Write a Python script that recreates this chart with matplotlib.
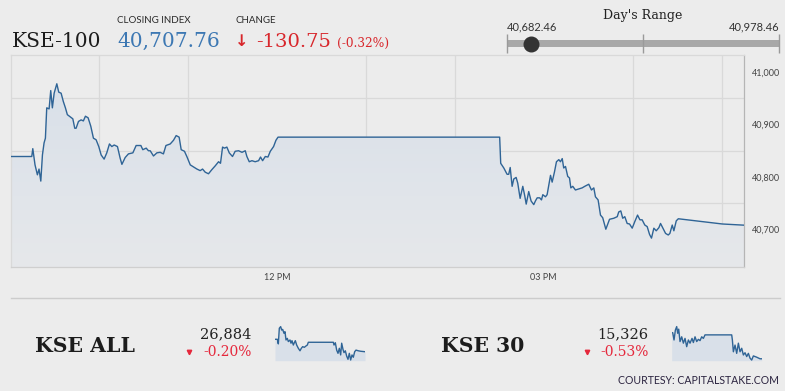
import numpy as np
import matplotlib
matplotlib.use("Agg")
import matplotlib.pyplot as plt
from matplotlib.colors import LinearSegmentedColormap
from matplotlib.patches import Polygon

# ---------------- data ----------------
index_name = "KSE-100"
closing_index = 40707.76
change_pts = -130.75
change_pct = -0.32
day_low = 40682.46
day_high = 40978.46

# minutes after 09:00
minutes = [0.9, 14.7, 15.4, 16.9, 18.5, 19.6, 20.8, 21.9, 23.0, 23.9, 24.8, 26.4, 27.5, 28.6, 29.8,
           31.6, 32.9, 34.5, 36.0, 37.4, 38.7, 40.6, 42.4, 43.7, 44.6, 46.2, 48.0, 49.5, 50.9, 52.7,
           54.5, 56.3, 58.1, 59.9, 61.5, 63.5, 65.3, 67.1, 68.7, 70.3, 72.5, 74.3, 75.5, 77.7, 79.9,
           82.9, 85.1, 88.3, 89.6, 91.9, 93.4, 94.6, 96.8, 99.1, 101.3, 103.5, 105.2, 108.1, 110.3,
           112.1, 114.1, 115.5, 117.7, 119.3, 121.6, 123.8, 126.1, 128.3, 129.9, 131.7, 133.9, 136.2,
           138.4, 140.7, 142.0, 143.4, 144.7, 146.3, 147.9, 150.1, 151.9, 154.2, 156.5, 158.7, 159.8,
           161.4, 163.2, 165.4, 167.7, 169.0, 170.4, 172.2, 174.0, 175.6, 177.8, 179.4, 180.8, 330.3,
           331.0, 333.1, 335.3, 336.4, 337.4, 338.7, 339.8, 341.4, 342.5, 344.1, 345.9, 347.2, 348.2,
           349.9, 351.5, 353.3, 354.4, 355.6, 357.3, 358.5, 359.4, 361.2, 362.3, 364.6, 365.7, 367.3,
           368.6, 370.2, 371.3, 372.5, 373.5, 374.7, 376.2, 377.4, 378.3, 379.6, 381.4, 383.7, 385.9,
           387.7, 390.4, 392.2, 393.8, 394.9, 396.7, 398.3, 399.8, 401.9, 404.4, 407.3, 409.6, 410.6,
           412.0, 413.3, 414.7, 416.3, 417.9, 419.7, 421.5, 423.3, 424.9, 426.4, 428.2, 429.8, 431.4,
           432.7, 434.3, 435.9, 437.7, 438.8, 440.4, 442.2, 444.0, 445.1, 446.7, 447.8, 449.4, 450.8,
           480.5, 495.1]
values = [40839, 40839, 40854, 40823, 40804, 40815, 40792, 40842, 40865, 40874, 40932, 40930, 40965,
          40932, 40960, 40978, 40962, 40960, 40944, 40932, 40919, 40915, 40911, 40893, 40893, 40906,
          40909, 40907, 40916, 40913, 40897, 40874, 40871, 40858, 40842, 40834, 40846, 40863, 40858,
          40861, 40858, 40836, 40824, 40837, 40844, 40846, 40860, 40860, 40852, 40855, 40850, 40850,
          40840, 40846, 40847, 40844, 40860, 40863, 40870, 40879, 40876, 40852, 40849, 40839, 40823,
          40819, 40815, 40812, 40815, 40809, 40806, 40814, 40821, 40829, 40826, 40857, 40855, 40857,
          40846, 40839, 40849, 40850, 40847, 40850, 40839, 40829, 40831, 40829, 40831, 40838, 40831,
          40839, 40838, 40849, 40858, 40870, 40876, 40876, 40826, 40817, 40805, 40805, 40818, 40782,
          40796, 40799, 40788, 40759, 40782, 40764, 40748, 40772, 40754, 40747, 40754, 40760, 40760,
          40756, 40766, 40762, 40766, 40803, 40790, 40810, 40829, 40833, 40829, 40835, 40817, 40820,
          40801, 40798, 40779, 40782, 40775, 40777, 40779, 40782, 40786, 40775, 40779, 40762, 40756,
          40727, 40722, 40700, 40719, 40721, 40724, 40733, 40735, 40721, 40724, 40711, 40710, 40702,
          40715, 40727, 40718, 40718, 40708, 40705, 40690, 40683, 40702, 40697, 40703, 40711, 40702,
          40692, 40689, 40692, 40708, 40697, 40716, 40720, 40710, 40707.76]

hour_grid = [60, 120, 180, 240, 300, 360, 420, 480]
x_tick_pos = [180, 360]
x_tick_labels = ["12 PM", "03 PM"]
y_tick_pos = [40700, 40800, 40900, 41000]
y_grid = [40650, 40700, 40750, 40800, 40850, 40900, 40950, 41000]
y_range = (40627.8, 41033)

kse_all_name = "KSE ALL"
kse_all_close = 26884
kse_all_pct = -0.20
kse_all_minutes = [0, 12.8, 18.3, 23.8, 31.2, 36.7, 42.2, 49.5, 55, 60.5, 67.8, 73.3, 82.5, 88, 93.5,
                   100.8, 106.3, 111.8, 119.2, 128.3, 137.5, 144.8, 152.2, 161.3, 170.5, 177.8, 183.3,
                   320.8, 324.5, 331.8, 339.2, 346.5, 353.8, 361.2, 366.7, 374, 379.5, 386.8, 394.2,
                   401.5, 408.8, 416.2, 423.5, 430.8, 438.2, 445.5, 458.3, 471.2, 495]
kse_all_values = [26938, 26938, 26918, 26986, 26993, 26978, 26981, 26964, 26971, 26935, 26942, 26928,
                  26935, 26921, 26932, 26913, 26923, 26932, 26913, 26899, 26888, 26899, 26906, 26903,
                  26909, 26913, 26925, 26925, 26913, 26923, 26891, 26877, 26899, 26870, 26921, 26894,
                  26880, 26888, 26865, 26851, 26877, 26848, 26870, 26860, 26884, 26891, 26888, 26886,
                  26884]
kse_all_range = (26845, 27000)

kse30_name = "KSE 30"
kse30_close = 15326
kse30_pct = -0.53
kse30_minutes = [0, 5.5, 12.8, 20.2, 27.5, 33, 38.5, 45.8, 55, 64.2, 73.3, 82.5, 91.7, 100.8, 111.8,
                 119.2, 128.3, 137.5, 146.7, 155.8, 165, 174.2, 183.3, 330, 333.7, 339.2, 348.3, 357.5,
                 366.7, 375.8, 385, 394.2, 403.3, 412.5, 421.7, 430.8, 440, 449.2, 458.3, 467.5, 485.8,
                 495]
kse30_values = [15408, 15408, 15385, 15416, 15427, 15406, 15419, 15380, 15395, 15375, 15390, 15364,
                15385, 15375, 15390, 15377, 15395, 15380, 15387, 15383, 15395, 15390, 15401, 15401,
                15385, 15348, 15369, 15343, 15375, 15348, 15359, 15338, 15345, 15333, 15343, 15328,
                15322, 15335, 15333, 15331, 15326, 15326]
kse30_range = (15320, 15432)

# ---------------- style ----------------
BG = "#ececec"
LINE = "#2f6496"
RED = "#d8262b"
RED2 = "#e5283c"
SERIF = ["DejaVu Serif"]
SANS = ["Lato", "DejaVu Sans"]

W, H = 785, 391
fig = plt.figure(figsize=(W / 100, H / 100), dpi=100)
fig.patch.set_facecolor(BG)


def px_axes(x0, y0, x1, y1, **kw):
    return fig.add_axes([x0 / W, 1 - y1 / H, (x1 - x0) / W, (y1 - y0) / H], **kw)


# overlay for header / footer text (pixel coordinates)
ov = px_axes(0, 0, W, H)
ov.set_xlim(0, W)
ov.set_ylim(H, 0)
ov.axis("off")
ov.patch.set_alpha(0)

# ---------------- main chart ----------------
ax = px_axes(11.3, 55, 744, 267)
ax.set_facecolor(BG)
ax.set_xlim(minutes[0], minutes[-1])
ax.set_ylim(*y_range)

# gradient fill under line
verts = [(minutes[0], y_range[0])] + list(zip(minutes, values)) + [(minutes[-1], y_range[0])]
poly = Polygon(verts, closed=True, facecolor="none", edgecolor="none", transform=ax.transData)
ax.add_patch(poly)
cmap = LinearSegmentedColormap.from_list("g", ["#e6e8eb", "#d7dfe9"])
grad = np.linspace(0, 1, 256).reshape(-1, 1)
im = ax.imshow(grad, cmap=cmap, origin="lower", aspect="auto",
               extent=[minutes[0], minutes[-1], y_range[0], y_range[1]], zorder=1)
im.set_clip_path(poly)
ax.plot(minutes, values, color=LINE, lw=1.0, zorder=3)

ax.set_xticks(x_tick_pos)
ax.set_xticklabels(x_tick_labels)
ax.set_xticks(hour_grid, minor=True)
ax.yaxis.tick_right()
ax.set_yticks(y_tick_pos)
ax.set_yticklabels([f"{v:,}" for v in y_tick_pos])
ax.set_yticks(y_grid, minor=True)
ax.grid(which="minor", color="#d9d9d9", lw=0.9, zorder=0)
ax.grid(which="major", visible=False)
ax.tick_params(axis="both", which="both", length=0)
ax.tick_params(axis="y", pad=5.5, labelsize=6.5, labelcolor="#444444")
ax.tick_params(axis="x", pad=4.5, labelsize=6.5, labelcolor="#444444")
for lab in ax.get_xticklabels() + ax.get_yticklabels():
    lab.set_family(SANS)
for s in ["top", "left"]:
    ax.spines[s].set_color("#d9d9d9")
ax.spines["bottom"].set_color("#cfcfcf")
ax.spines["right"].set_color("#b5b5b5")
for s in ax.spines.values():
    s.set_linewidth(0.9)
ax.set_axisbelow(True)

# ---------------- header ----------------
ov.text(12, 46.7, index_name, family=SERIF, fontsize=14.5, color="#1c1c1c", va="baseline")
ov.text(117, 23, "CLOSING INDEX", family=SANS, fontsize=7, color="#2a2a2a", va="baseline")
ov.text(117, 46.7, f"{closing_index:,.2f}", family=SERIF, fontsize=14.5, color="#3d78b3",
        va="baseline")
ov.text(236, 23, "CHANGE", family=SANS, fontsize=7, color="#2a2a2a", va="baseline")
ov.text(235, 46.2, "\u2193", family=["DejaVu Sans"], fontsize=11.5, color=RED, va="baseline",
        fontweight="bold")
ov.text(256, 46.7, f"{change_pts:,.2f}", family=SERIF, fontsize=14, color=RED, va="baseline")
ov.text(337, 46.7, f"({change_pct:.2f}%)", family=SERIF, fontsize=8.7, color=RED, va="baseline")

# Day's range
ov.text(643, 15.5, "Day's Range", family=SERIF, fontsize=9, color="#222222", ha="center",
        va="center")
ov.text(507, 30, f"{day_low:,.2f}", family=SANS, fontsize=8, color="#333333", va="baseline")
ov.text(779.3, 30, f"{day_high:,.2f}", family=SANS, fontsize=8, color="#333333", va="baseline",
        ha="right")
sl = px_axes(507.3, 34, 779.3, 53)
sl.set_xlim(day_low, day_high)
sl.set_ylim(0, 1)
sl.axis("off")
sl.patch.set_alpha(0)
sl.fill_between([day_low, day_high], 0.316, 0.684, color="#a8a8a8", lw=0)
sl.vlines([day_low, (day_low + day_high) / 2, day_high], 0, 1, color="#9a9a9a", lw=1.0,
          clip_on=False)
sl.plot([closing_index], [0.49], "o", ms=10.5, color="#333333", clip_on=False, zorder=5)

# ---------------- footer ----------------
ov.plot([11, 780], [298, 298], color="#cccccc", lw=1.0)


def footer_block(x_name, x_right, x_tri, name, close, pct, spark_box, mins, vals, yr):
    ov.text(x_name, 351.7, name, family=SERIF, fontsize=14.7, fontweight="bold", color="#1c1c1c",
            va="baseline")
    ov.text(x_right, 338, f"{close:,}", family=SERIF, fontsize=10.5, color="#222222",
            ha="right", va="baseline")
    ov.text(x_right, 355.5, f"{pct:.2f}%", family=SERIF, fontsize=10, color=RED2,
            ha="right", va="baseline")
    ov.plot([x_tri], [352.3], marker="v", ms=3.2, color=RED2, lw=0)
    sp = px_axes(*spark_box)
    sp.set_xlim(mins[0], mins[-1])
    sp.set_ylim(*yr)
    sp.axis("off")
    sp.patch.set_alpha(0)
    sp.fill_between(mins, vals, yr[0], color="#d9e0e9", lw=0)
    sp.plot(mins, vals, color=LINE, lw=1.0)


footer_block(35, 251.7, 189, kse_all_name, kse_all_close, kse_all_pct, (275, 325, 365, 360.7),
             kse_all_minutes, kse_all_values, kse_all_range)
footer_block(440.7, 648.3, 587, kse30_name, kse30_close, kse30_pct, (671.7, 325, 761.7, 360.7),
             kse30_minutes, kse30_values, kse30_range)

ov.text(779.3, 384.5, "COURTESY: CAPITALSTAKE.COM", family=SANS, fontsize=7.6, color="#2c2440",
        ha="right", va="baseline")

fig.savefig("out.png", dpi=100, facecolor=BG)
